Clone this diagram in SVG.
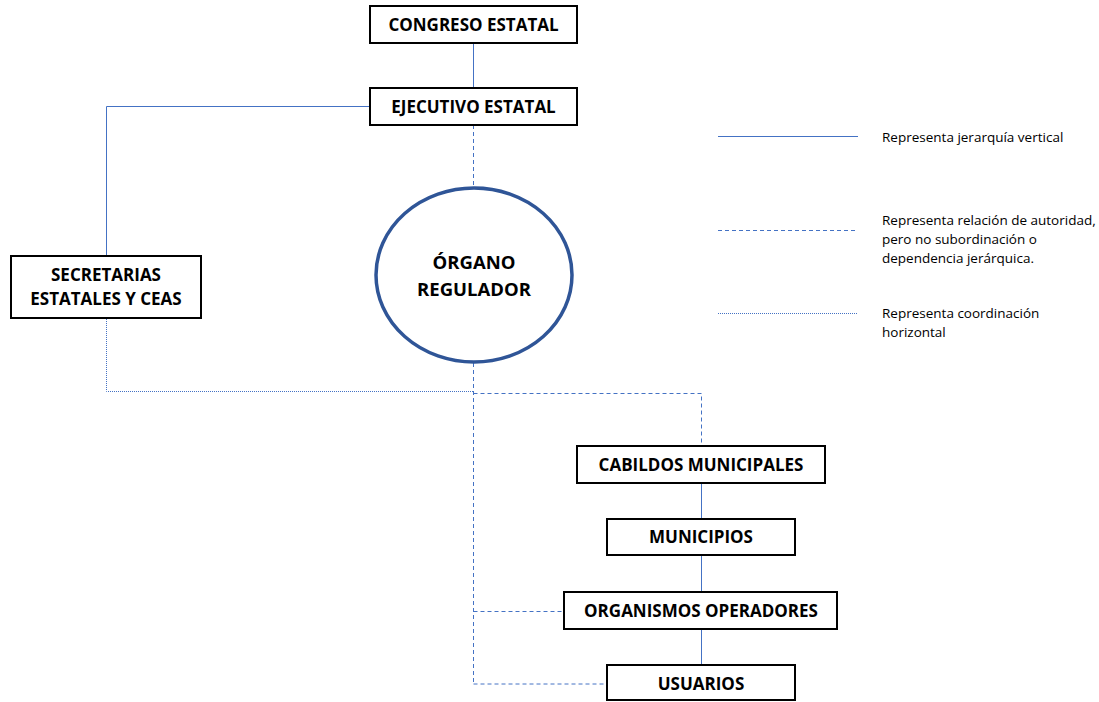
<svg xmlns="http://www.w3.org/2000/svg" width="1099" height="702" viewBox="0 0 1099 702">
<style>
.box{fill:#fff;stroke:#000;stroke-width:2}
.lbl{font-family:"Open Sans","Liberation Sans",sans-serif;font-weight:bold;font-size:17px;fill:#000;text-anchor:middle}
.big{font-size:18.5px}
.leg{font-family:"Open Sans","Liberation Sans",sans-serif;font-size:13.5px;fill:#000}
.solid{stroke:#4472C4;stroke-width:1;fill:none}
.dash{stroke:#4472C4;stroke-width:1;stroke-dasharray:4,3;fill:none}
.dot{stroke:#4472C4;stroke-width:1;stroke-dasharray:1,1;fill:none}
</style>
<rect width="1099" height="702" fill="#fff"/>
<g id="connectors">
<line class="solid" x1="473.5" y1="43" x2="473.5" y2="87"/>
<line class="dash" x1="473.5" y1="125" x2="473.5" y2="187"/>
<polyline class="solid" points="369,106.5 106.5,106.5 106.5,256"/>
<polyline class="dot" points="106.5,319 106.5,391.5 473.5,391.5"/>
<line class="dash" x1="473.5" y1="363" x2="473.5" y2="684"/>
<polyline class="dash" points="473.5,393.5 701.5,393.5 701.5,446"/>
<line class="solid" x1="701.5" y1="483" x2="701.5" y2="519"/>
<line class="solid" x1="701.5" y1="555" x2="701.5" y2="592"/>
<line class="solid" x1="701.5" y1="629" x2="701.5" y2="665"/>
<line class="dash" x1="473.5" y1="611.5" x2="564" y2="611.5"/>
<line class="dash" x1="473.5" y1="684" x2="607" y2="684"/>
</g>
<g id="congreso"><rect class="box" x="370" y="6" width="207" height="37"/><text class="lbl" x="473.5" y="31">CONGRESO ESTATAL</text></g>
<g id="ejecutivo"><rect class="box" x="370" y="88" width="207" height="37"/><text class="lbl" x="473.5" y="113">EJECUTIVO ESTATAL</text></g>
<g id="secretarias"><rect class="box" x="11" y="256" width="190" height="62"/><text class="lbl" x="106" y="281">SECRETARIAS</text><text class="lbl" x="106" y="305">ESTATALES Y CEAS</text></g>
<g id="organo"><ellipse cx="474" cy="275" rx="98" ry="87" fill="#fff" stroke="#2F5597" stroke-width="3.5"/><text class="lbl big" x="474" y="269">ÓRGANO</text><text class="lbl big" x="474" y="296">REGULADOR</text></g>
<g id="cabildos"><rect class="box" x="577" y="446" width="248" height="37"/><text class="lbl" x="701" y="471">CABILDOS MUNICIPALES</text></g>
<g id="municipios"><rect class="box" x="607" y="519" width="188" height="36"/><text class="lbl" x="701" y="543">MUNICIPIOS</text></g>
<g id="organismos"><rect class="box" x="564" y="592" width="273" height="37"/><text class="lbl" x="701" y="617">ORGANISMOS OPERADORES</text></g>
<g id="usuarios"><rect class="box" x="607" y="665" width="188" height="35"/><text class="lbl" x="701" y="690">USUARIOS</text></g>
<g id="legend">
<line class="solid" x1="718" y1="136.5" x2="858" y2="136.5"/>
<line class="dash" x1="718" y1="230.5" x2="858" y2="230.5"/>
<line class="dot" x1="718" y1="313.5" x2="858" y2="313.5"/>
<text class="leg" x="882" y="142">Representa jerarquía vertical</text>
<text class="leg" x="882" y="225">Representa relación de autoridad,</text>
<text class="leg" x="882" y="244">pero no subordinación o</text>
<text class="leg" x="882" y="263">dependencia jerárquica.</text>
<text class="leg" x="882" y="318">Representa coordinación</text>
<text class="leg" x="882" y="337">horizontal</text>
</g>
</svg>
